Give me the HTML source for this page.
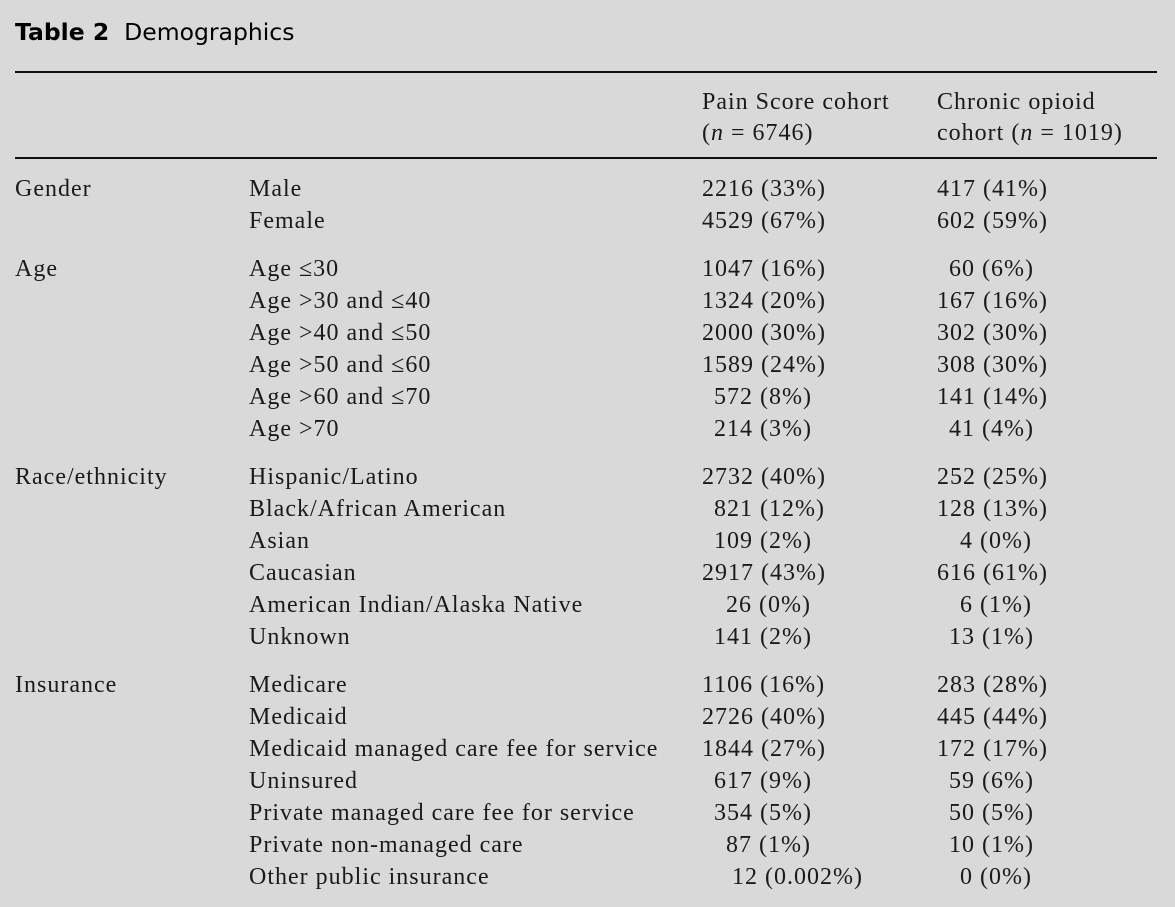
<!DOCTYPE html>
<html><head><meta charset="utf-8"><style>
html,body{margin:0;padding:0;background:#d9d9d9;}
body{width:1175px;height:907px;position:relative;overflow:hidden;font-family:"Liberation Serif",serif;color:#1a1a1a;font-size:24px;letter-spacing:1px;}
.t{position:absolute;white-space:nowrap;line-height:32px;height:32px;}
.title{position:absolute;left:15px;top:18px;font-family:"DejaVu Sans","Liberation Sans",sans-serif;font-size:23.5px;color:#000;letter-spacing:0;}
.hr{position:absolute;left:15px;width:1142px;height:2px;background:#111;}
</style></head><body>
<div class="title"><b>Table 2</b>&nbsp; Demographics</div>
<div class="hr" style="top:71px"></div>
<div class="hr" style="top:157px"></div>
<div class="t" style="left:702px;top:86px">Pain Score cohort</div>
<div class="t" style="left:702px;top:117px">(<i>n</i> = 6746)</div>
<div class="t" style="left:937px;top:86px">Chronic opioid</div>
<div class="t" style="left:937px;top:117px">cohort (<i>n</i> = 1019)</div>

<div class="t" style="left:15px;top:173px">Gender</div>
<div class="t" style="left:15px;top:253px">Age</div>
<div class="t" style="left:15px;top:461px">Race/ethnicity</div>
<div class="t" style="left:15px;top:669px">Insurance</div>

<div class="t" style="left:249px;top:173px">Male</div><div class="t" style="left:702px;top:173px">2216 (33%)</div><div class="t" style="left:937px;top:173px">417 (41%)</div>
<div class="t" style="left:249px;top:205px">Female</div><div class="t" style="left:702px;top:205px">4529 (67%)</div><div class="t" style="left:937px;top:205px">602 (59%)</div>

<div class="t" style="left:249px;top:253px">Age ≤30</div><div class="t" style="left:702px;top:253px">1047 (16%)</div><div class="t" style="left:949px;top:253px">60 (6%)</div>
<div class="t" style="left:249px;top:285px">Age &gt;30 and ≤40</div><div class="t" style="left:702px;top:285px">1324 (20%)</div><div class="t" style="left:937px;top:285px">167 (16%)</div>
<div class="t" style="left:249px;top:317px">Age &gt;40 and ≤50</div><div class="t" style="left:702px;top:317px">2000 (30%)</div><div class="t" style="left:937px;top:317px">302 (30%)</div>
<div class="t" style="left:249px;top:349px">Age &gt;50 and ≤60</div><div class="t" style="left:702px;top:349px">1589 (24%)</div><div class="t" style="left:937px;top:349px">308 (30%)</div>
<div class="t" style="left:249px;top:381px">Age &gt;60 and ≤70</div><div class="t" style="left:714px;top:381px">572 (8%)</div><div class="t" style="left:937px;top:381px">141 (14%)</div>
<div class="t" style="left:249px;top:413px">Age &gt;70</div><div class="t" style="left:714px;top:413px">214 (3%)</div><div class="t" style="left:949px;top:413px">41 (4%)</div>

<div class="t" style="left:249px;top:461px">Hispanic/Latino</div><div class="t" style="left:702px;top:461px">2732 (40%)</div><div class="t" style="left:937px;top:461px">252 (25%)</div>
<div class="t" style="left:249px;top:493px">Black/African American</div><div class="t" style="left:714px;top:493px">821 (12%)</div><div class="t" style="left:937px;top:493px">128 (13%)</div>
<div class="t" style="left:249px;top:525px">Asian</div><div class="t" style="left:714px;top:525px">109 (2%)</div><div class="t" style="left:960px;top:525px">4 (0%)</div>
<div class="t" style="left:249px;top:557px">Caucasian</div><div class="t" style="left:702px;top:557px">2917 (43%)</div><div class="t" style="left:937px;top:557px">616 (61%)</div>
<div class="t" style="left:249px;top:589px">American Indian/Alaska Native</div><div class="t" style="left:726px;top:589px">26 (0%)</div><div class="t" style="left:960px;top:589px">6 (1%)</div>
<div class="t" style="left:249px;top:621px">Unknown</div><div class="t" style="left:714px;top:621px">141 (2%)</div><div class="t" style="left:949px;top:621px">13 (1%)</div>

<div class="t" style="left:249px;top:669px">Medicare</div><div class="t" style="left:702px;top:669px">1106 (16%)</div><div class="t" style="left:937px;top:669px">283 (28%)</div>
<div class="t" style="left:249px;top:701px">Medicaid</div><div class="t" style="left:702px;top:701px">2726 (40%)</div><div class="t" style="left:937px;top:701px">445 (44%)</div>
<div class="t" style="left:249px;top:733px">Medicaid managed care fee for service</div><div class="t" style="left:702px;top:733px">1844 (27%)</div><div class="t" style="left:937px;top:733px">172 (17%)</div>
<div class="t" style="left:249px;top:765px">Uninsured</div><div class="t" style="left:714px;top:765px">617 (9%)</div><div class="t" style="left:949px;top:765px">59 (6%)</div>
<div class="t" style="left:249px;top:797px">Private managed care fee for service</div><div class="t" style="left:714px;top:797px">354 (5%)</div><div class="t" style="left:949px;top:797px">50 (5%)</div>
<div class="t" style="left:249px;top:829px">Private non-managed care</div><div class="t" style="left:726px;top:829px">87 (1%)</div><div class="t" style="left:949px;top:829px">10 (1%)</div>
<div class="t" style="left:249px;top:861px">Other public insurance</div><div class="t" style="left:732px;top:861px">12 (0.002%)</div><div class="t" style="left:960px;top:861px">0 (0%)</div>
</body></html>
